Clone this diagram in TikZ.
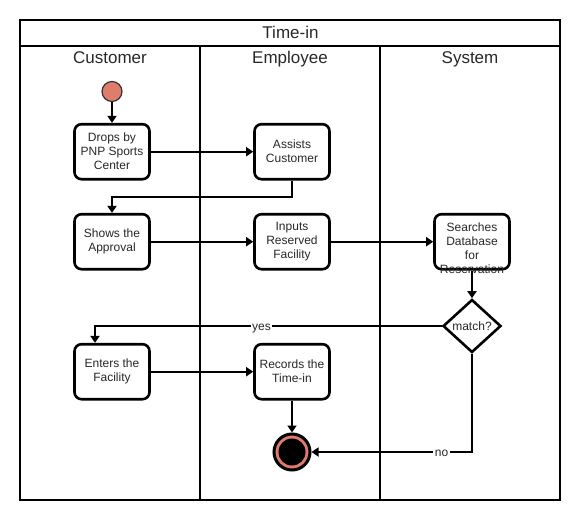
\documentclass[tikz,border=0pt]{standalone}
\usepackage{fontspec}
\setmainfont{Liberation Sans}
\usetikzlibrary{arrows.meta,shapes.geometric}
\definecolor{salmon}{RGB}{224,124,107}
\definecolor{txt}{RGB}{40,40,40}
\tikzset{
  act/.style={draw=black, line width=2.6pt, rounded corners=7pt, fill=white,
    minimum width=75pt, minimum height=55pt, inner sep=0pt, align=center,
    text=txt, font=\fontsize{12}{14}\selectfont},
  dec/.style={draw=black, line width=2.6pt, shape=diamond, fill=white,
    minimum width=58pt, minimum height=53pt, inner sep=0pt,
    text=txt, font=\fontsize{12}{14}\selectfont},
  conn/.style={draw=black, line width=2pt,
    -{Triangle[length=7pt,width=9pt]}},
  lbl/.style={fill=white, inner sep=1.5pt, text=txt, anchor=base, yshift=-4.5pt,
    text height=8.5pt, text depth=2.5pt,
    font=\fontsize{12}{14}\selectfont},
  head/.style={text=txt, anchor=base, inner sep=0pt, font=\fontsize{17}{20}\selectfont},
  frame/.style={draw=black, line width=2pt}
}
\begin{document}
\begin{tikzpicture}[x=1pt,y=-1pt]
\useasboundingbox (0,0) rectangle (582,520);
% swimlanes
\draw[frame] (20,20) rectangle (560,500);
\draw[frame] (20,45.5) -- (560,45.5);
\draw[frame] (200,45.5) -- (200,500);
\draw[frame] (380,45.5) -- (380,500);
\node[head] (title) at (290.5,38.7) {Time-in};
\node[head] (hcust) at (110,63.5) {Customer};
\node[head] (hemp) at (290,63.5) {Employee};
\node[head] (hsys) at (470,63.5) {System};
% nodes
\node[circle, draw=black!80, line width=1.2pt, fill=salmon, minimum size=20pt, inner sep=0pt] (start) at (112,91.5) {};
\node[act] (drops) at (112,151.7) {Drops by\\PNP Sports\\Center};
\node[act] (assists) at (292,151.7) {Assists\\Customer};
\node[act] (shows) at (112,241.7) {Shows the\\Approval};
\node[act] (inputs) at (292,241.7) {Inputs\\Reserved\\Facility};
\node[act] (searches) at (472,241.7) {};
\node[text=txt, font=\fontsize{12}{14}\selectfont, align=center, inner sep=0pt] (stext) at (472,248.5) {Searches\\Database\\for\\Reservation};
\node[dec] (match) at (472,326) {match?};
\node[act] (enters) at (112,371.7) {Enters the\\Facility};
\node[act] (records) at (292,371.7) {Records the\\Time-in};
\node[circle, draw=black, line width=3pt, fill=salmon, minimum size=36pt, inner sep=0pt] (endc) at (292,452) {};
\node[circle, fill=black, minimum size=27pt, inner sep=0pt] (endin) at (endc.center) {};
% bends
\coordinate (b1) at (112,197);
\coordinate (b2) at (95,326);
\coordinate (b3) at (472,452);
% connectors
\draw[conn] (start) -- (drops);
\draw[conn] (drops) -- (assists);
\draw[conn] (assists.south) |- (b1) -- (shows.north);
\draw[conn] (shows) -- (inputs);
\draw[conn] (inputs) -- (searches);
\draw[conn] (searches) -- (match);
\draw[conn] (match.west) -- node[lbl, pos=0.52] {yes} (b2) -- (b2 |- enters.north);
\draw[conn] (enters) -- (records);
\draw[conn] (records) -- (endc);
\draw[conn] (match.south) -- (b3) -- node[lbl, pos=0.19] {no} (endc.east);
\end{tikzpicture}
\end{document}
